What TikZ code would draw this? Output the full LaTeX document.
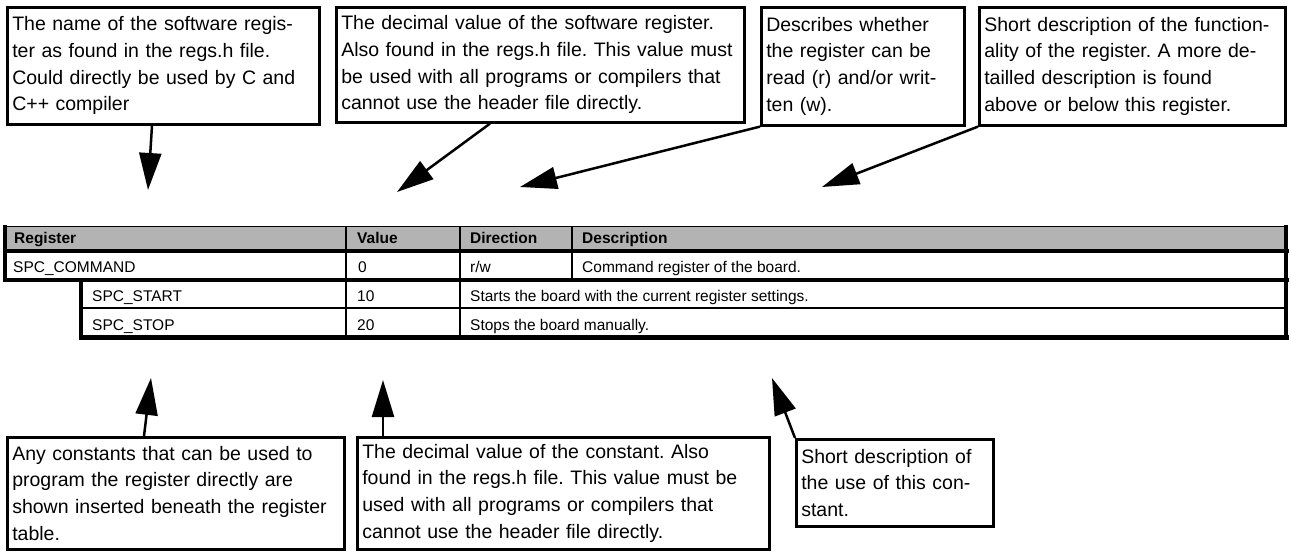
\documentclass[tikz,border=0pt]{standalone}
\usepackage{fontspec}
\setmainfont{Liberation Sans}
\usetikzlibrary{arrows.meta}
\definecolor{headgray}{RGB}{179,179,179}
\frenchspacing

\begin{document}
\begin{tikzpicture}[x=1pt,y=-1pt,
    note/.style={draw, line width=2.6pt, anchor=north west, align=left,
        inner xsep=5pt, inner ysep=0pt, font=\fontsize{19.5}{26.7}\selectfont},
    pointer/.style={line width=2.5pt, -{Triangle[length=37pt,width=22pt]}},
    cell/.style={anchor=base west, inner sep=0pt, font=\fontsize{15.5}{18}\selectfont},
    headcell/.style={cell, font=\fontsize{15.5}{18}\selectfont\bfseries},
    heavyrule/.style={line width=4.5pt},
    thinrule/.style={line width=1.5pt}
]
\useasboundingbox (0,0) rectangle (1291,554);

% notes above the table
\node[note, text width=302pt, minimum height=117pt] (regname) at (6,6)
    {The name of the software regis-\\ter as found in the regs.h file.\\Could directly be used by C and\\C++ compiler};
\node[note, text width=398pt, minimum height=115pt] (regvalue) at (335,6)
    {The decimal value of the software register.\\Also found in the regs.h file. This value must\\be used with all programs or compilers that\\cannot use the header file directly.};
\node[note, text width=193pt, minimum height=118pt] (regdir) at (760,6)
    {Describes whether\\the register can be\\read (r) and/or writ-\\ten (w).};
\node[note, text width=296pt, minimum height=118pt] (regdesc) at (978,6)
    {Short description of the function-\\ality of the register. A more de-\\tailled description is found\\above or below this register.};

% notes below the table
\node[note, text width=327pt, minimum height=112pt] (cstlist) at (6,436)
    {Any constants that can be used to\\program the register directly are\\shown inserted beneath the register\\table.};
\node[note, text width=402pt, minimum height=112pt] (cstvalue) at (356,436)
    {The decimal value of the constant. Also\\found in the regs.h file. This value must be\\used with all programs or compilers that\\cannot use the header file directly.};
\node[note, text width=187pt, minimum height=87pt] (cstdesc) at (795,438)
    {Short description of\\the use of this con-\\stant.};

% register table
\fill[headgray] (5,226) rectangle (1287,251);
\draw[line width=1pt] (5,226) -- (1287,226);
\draw[heavyrule] (3,251) -- (1289,251);
\draw[heavyrule] (3,280) -- (1289,280);
\draw[thinrule] (81,308) -- (1287,308);
\draw[line width=5pt] (79,337) -- (1289,337);
\draw[heavyrule] (5,225) -- (5,282);
\draw[heavyrule] (81,278) -- (81,339);
\draw[heavyrule] (1286,225) -- (1286,339);
\foreach \cx in {346,460}
    \draw[thinrule] (\cx,226) -- (\cx,337);
\draw[thinrule] (572,226) -- (572,280);

\node[headcell] (hreg) at (14,243) {Register};
\node[headcell] (hval) at (357,243) {Value};
\node[headcell] (hdir) at (470,243) {Direction};
\node[headcell] (hdesc) at (582,243) {Description};

\node[cell] (cmd) at (13,272) {SPC\_COMMAND};
\node[cell] (cmdval) at (358,272) {0};
\node[cell] (cmddir) at (470,272) {r/w};
\node[cell] (cmddesc) at (582,272) {Command register of the board.};

\node[cell] (start) at (92,301) {SPC\_START};
\node[cell] (startval) at (357,301) {10};
\node[cell] (startdesc) at (470,301) {Starts the board with the current register settings.};

\node[cell] (stop) at (92,330) {SPC\_STOP};
\node[cell] (stopval) at (357,330) {20};
\node[cell] (stopdesc) at (470,330) {Stops the board manually.};

% arrow targets
\coordinate (regnamept) at (148,190);
\coordinate (regvaluept) at (397,192);
\coordinate (regdirpt) at (520,187);
\coordinate (regdescpt) at (822,187);
\coordinate (cstlistpt) at (151,378);
\coordinate (cstvaluept) at (383,380);
\coordinate (cstdescpt) at (772,378);

\draw[pointer] ([xshift=146pt]regname.south west) -- (regnamept);
\draw[pointer] ([xshift=155pt]regvalue.south west) -- (regvaluept);
\draw[pointer] (regdir.south west) -- (regdirpt);
\draw[pointer] (regdesc.south west) -- (regdescpt);
\draw[pointer] ([xshift=138pt]cstlist.north west) -- (cstlistpt);
\draw[pointer] ([xshift=27pt]cstvalue.north west) -- (cstvaluept);
\draw[pointer] (cstdesc.north west) -- (cstdescpt);
\end{tikzpicture}
\end{document}
